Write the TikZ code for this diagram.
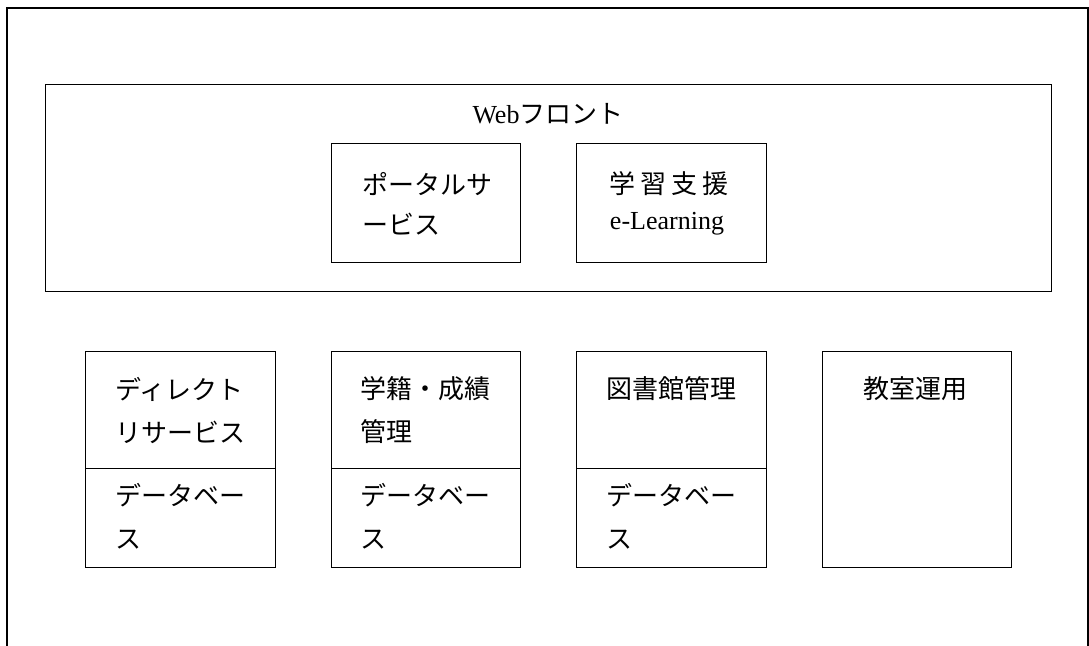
\documentclass[tikz,border=0pt]{standalone}
\usepackage{fontspec}
\setmainfont{Liberation Serif}
\newfontfamily\jp{Noto Sans CJK JP}
\newdimen\px \px=0.75pt
\begin{document}
\begin{tikzpicture}[x=0.75pt,y=-0.75pt,
  box/.style={draw=black,line width=0.75pt,rectangle,inner sep=0pt,outer sep=0pt,anchor=north west},
  lbl/.style={inner sep=0pt,font=\fontsize{19.5}{24}\selectfont},
  frame/.style={draw=black,line width=0.8pt}]
\useasboundingbox (0,0) rectangle (1089,646);
% outer frame (open at bottom)
\coordinate (fbl) at (7,650);
\coordinate (ftl) at (7,8);
\coordinate (ftr) at (1088,8);
\coordinate (fbr) at (1088,650);
\draw[frame] (fbl) -- (ftl) -- (ftr) -- (fbr);
% Web front
\node[box,minimum width=1006\px,minimum height=207\px] (web) at (45,84) {};
\node[lbl] (webt) at (548,114) {Web{\jp フロント}};
\node[box,minimum width=189\px,minimum height=119\px] (portal) at (331,143) {};
\node[lbl,anchor=west] (portal1) at (362,184) {\jp ポータルサ};
\node[lbl,anchor=west] (portal2) at (362,224) {\jp ービス};
\node[box,minimum width=190\px,minimum height=119\px] (gakushu) at (576,143) {};
\node[lbl] (gakushu1) at (669,184) {\jp 学\kern4pt 習\kern4pt 支\kern4pt 援};
\node[lbl] (gakushu2) at (667,224) {e-Learning};
% bottom row
\node[box,minimum width=190\px,minimum height=117\px] (dir) at (85,351) {};
\node[box,minimum width=190\px,minimum height=99\px] (dirdb) at (85,468) {};
\node[lbl,anchor=west] (dir1) at (115,389) {\jp ディレクト};
\node[lbl,anchor=west] (dir2) at (115,432) {\jp リサービス};
\node[lbl,anchor=west] (dirdb1) at (115,495) {\jp データベー};
\node[lbl,anchor=west] (dirdb2) at (115,540) {\jp ス};
\node[box,minimum width=189\px,minimum height=117\px] (gs) at (331,351) {};
\node[box,minimum width=189\px,minimum height=99\px] (gsdb) at (331,468) {};
\node[lbl,anchor=west] (gs1) at (360,389) {\jp 学籍・成績};
\node[lbl,anchor=west] (gs2) at (360,432) {\jp 管理};
\node[lbl,anchor=west] (gsdb1) at (360,495) {\jp データベー};
\node[lbl,anchor=west] (gsdb2) at (360,540) {\jp ス};
\node[box,minimum width=190\px,minimum height=117\px] (lib) at (576,351) {};
\node[box,minimum width=190\px,minimum height=99\px] (libdb) at (576,468) {};
\node[lbl,anchor=west] (lib1) at (606,389) {\jp 図書館管理};
\node[lbl,anchor=west] (libdb1) at (606,495) {\jp データベー};
\node[lbl,anchor=west] (libdb2) at (606,540) {\jp ス};
\node[box,minimum width=189\px,minimum height=216\px] (room) at (822,351) {};
\node[lbl] (room1) at (915,389) {\jp 教室運用};
\end{tikzpicture}
\end{document}
